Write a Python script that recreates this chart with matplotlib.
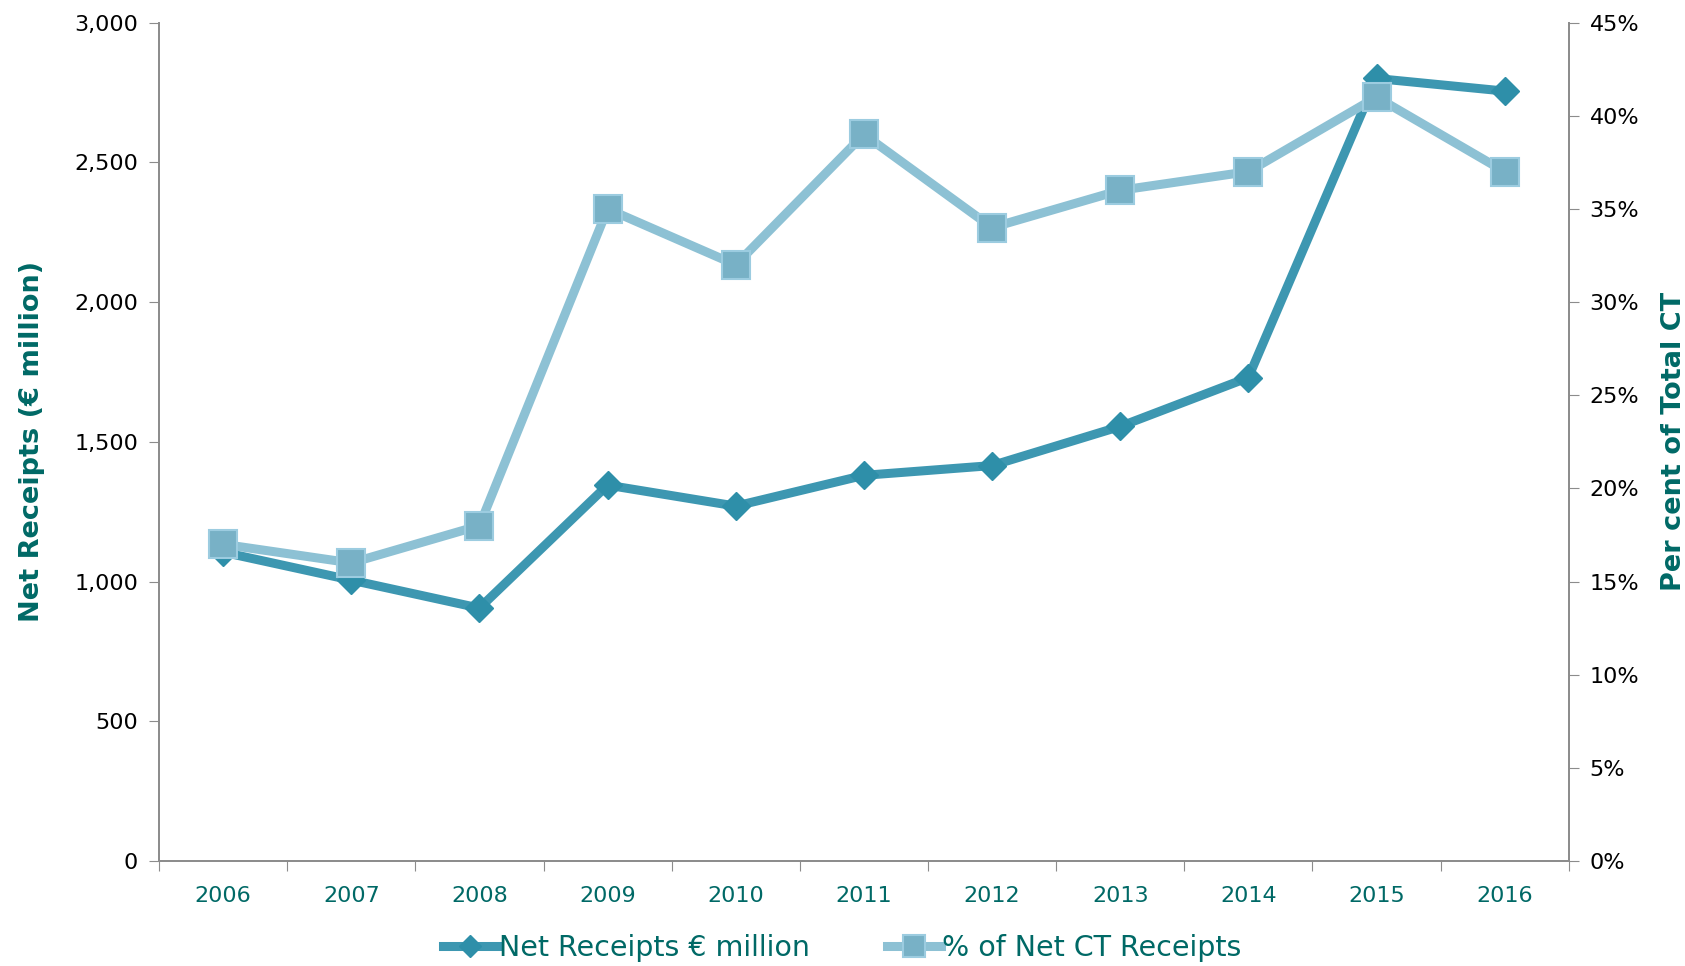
import matplotlib
matplotlib.use("Agg")
import matplotlib.pyplot as plt
from matplotlib.ticker import FuncFormatter, MultipleLocator

years = ["2006", "2007", "2008", "2009", "2010", "2011",
         "2012", "2013", "2014", "2015", "2016"]
net_receipts = [1105, 1005, 905, 1345, 1270, 1380, 1415, 1555, 1730, 2800, 2755]
pct_ct = [17, 16, 18, 35, 32, 39, 34, 36, 37, 41, 37]

teal = "#006966"
dark = "#3D97B1"
light = "#8DC1D4"
grey = "#8c8c8c"

plt.rcParams['font.family'] = ['DejaVu Sans']

fig = plt.figure(figsize=(16.85, 9.66), dpi=100)
ax = fig.add_axes([0.0944, 0.1087, 0.8366, 0.8679])
ax2 = ax.twinx()

x = list(range(len(years)))
l1, = ax.plot(x, net_receipts, color=dark, lw=6.5, marker="D", ms=14,
              mfc="#2E8FA9", mec="#2E8FA9", zorder=3,
              label="Net Receipts € million")
l2, = ax2.plot(x, pct_ct, color=light, lw=6.5, marker="s", ms=20,
               mfc="#78B1C6", mec="#9CCCE0", mew=1.5, zorder=3,
               label="% of Net CT Receipts")

ax.set_xlim(-0.5, len(years) - 0.5)
ax.set_ylim(0, 3000)
ax2.set_ylim(0, 45)
ax.yaxis.set_major_locator(MultipleLocator(500))
ax2.yaxis.set_major_locator(MultipleLocator(5))
ax.yaxis.set_major_formatter(FuncFormatter(lambda v, p: f"{int(v):,}"))
ax2.yaxis.set_major_formatter(FuncFormatter(lambda v, p: f"{int(v)}%"))

ax.set_xticks([i - 0.5 for i in range(len(years) + 1)])
ax.set_xticklabels([])
ax.set_xticks(x, minor=True)
ax.set_xticklabels(years, minor=True)
ax.tick_params(axis="x", which="major", length=7, color=grey, direction="out")
ax.tick_params(axis="x", which="minor", length=0, labelsize=16,
               labelcolor=teal, pad=18)
ax.tick_params(axis="y", length=7, color=grey, labelsize=16, pad=8)
ax2.tick_params(axis="y", length=7, color=grey, labelsize=16, pad=8)

for a in (ax, ax2):
    a.spines["top"].set_visible(False)
    for s in ("left", "right", "bottom"):
        a.spines[s].set_color(grey)
        a.spines[s].set_linewidth(1.3)

ax.set_ylabel("Net Receipts (€ million)", color=teal, fontsize=19.5,
              fontweight="bold", labelpad=21)
ax2.set_ylabel("Per cent of Total CT", color=teal, fontsize=19.5,
               fontweight="bold", labelpad=16)

fig.legend(handles=[l1, l2], loc="lower center", ncol=2, frameon=False,
           fontsize=20.5, labelcolor=teal, handlelength=1.9, handletextpad=0.05,
           columnspacing=2.7, bbox_to_anchor=(0.5, -0.022), markerscale=0.8)

fig.savefig("out.png", dpi=100)
